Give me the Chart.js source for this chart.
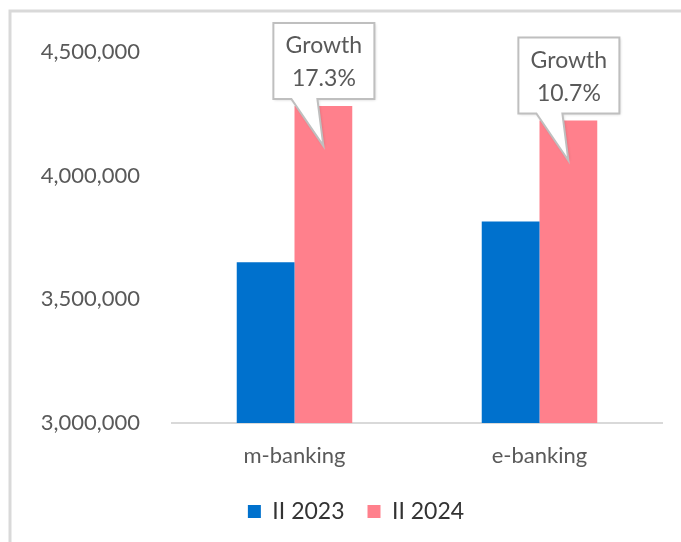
<!DOCTYPE html>
<html>
<head>
<meta charset="utf-8">
<script src="https://cdn.jsdelivr.net/npm/chart.js@4.4.1/dist/chart.umd.min.js"></script>
<style>
  html, body { margin: 0; padding: 0; background: #ffffff; }
  #wrap { position: relative; width: 681px; height: 542px; }
</style>
</head>
<body>
<div id="wrap"><canvas id="chart" width="681" height="542"></canvas></div>
<script>
// Channel categories and half-year user counts
const categories = ['m-banking', 'e-banking'];
const seriesNames = ['II 2023', 'II 2024'];
const users2023 = [3650000, 3815000];
const users2024 = [4282000, 4223000];
const yTicks = [3000000, 3500000, 4000000, 4500000];

const BLUE = '#0071CD';
const PINK = '#FF808C';
const TEXT = '#595959';
const FONT = 'Lato, "Open Sans", sans-serif';

// Year-on-year growth, shown in the callouts above the II 2024 bars
const growthLabels = users2024.map((v, i) => ((v / users2023[i] - 1) * 100).toFixed(1) + '%');

// Light frame around the chart panel
const framePlugin = {
  id: 'frame',
  beforeDraw(chart) {
    const ctx = chart.ctx;
    ctx.save();
    ctx.fillStyle = '#ffffff';
    ctx.fillRect(0, 0, chart.width, chart.height);
    ctx.strokeStyle = '#d9d9d9';
    ctx.lineWidth = 3;
    ctx.beginPath();
    ctx.moveTo(10, chart.height);
    ctx.lineTo(10, 11);
    ctx.lineTo(chart.width, 11);
    ctx.stroke();
    ctx.restore();
  }
};

// Centre the legend under the panel rather than the whole canvas
const legendShiftPlugin = {
  id: 'legendShift',
  afterLayout(chart) {
    if (chart.legend) {
      chart.legend.left += 50;
    }
  }
};

// Speech-bubble callouts pointing into the II 2024 bars
const calloutPlugin = {
  id: 'callouts',
  afterDatasetsDraw(chart) {
    const ctx = chart.ctx;
    const meta = chart.getDatasetMeta(1);
    meta.data.forEach((bar, i) => {
      const cx = bar.x + 0.5;
      const w = 101, h = 76;
      const bottom = bar.y - 7;
      const top = bottom - h;
      const left = cx - w / 2, right = cx + w / 2;
      const tipX = bar.x, tipY = bar.y + 40;
      const baseL = bar.x - 32, baseR = bar.x - 6;

      ctx.save();
      ctx.beginPath();
      ctx.moveTo(left, top);
      ctx.lineTo(right, top);
      ctx.lineTo(right, bottom);
      ctx.lineTo(baseR, bottom);
      ctx.lineTo(tipX, tipY);
      ctx.lineTo(baseL, bottom);
      ctx.lineTo(left, bottom);
      ctx.closePath();
      ctx.shadowColor = 'rgba(0,0,0,0.18)';
      ctx.shadowBlur = 3;
      ctx.shadowOffsetX = 1;
      ctx.shadowOffsetY = 1;
      ctx.fillStyle = '#ffffff';
      ctx.fill();
      ctx.shadowColor = 'transparent';
      ctx.strokeStyle = '#bfbfbf';
      ctx.lineWidth = 2;
      ctx.lineJoin = 'miter';
      ctx.stroke();

      ctx.fillStyle = TEXT;
      ctx.font = '23px ' + FONT;
      ctx.textAlign = 'center';
      ctx.textBaseline = 'middle';
      ctx.fillText('Growth', cx, top + 23);
      ctx.fillText(growthLabels[i], cx, top + 56);
      ctx.restore();
    });
  }
};

new Chart(document.getElementById('chart'), {
  type: 'bar',
  data: {
    labels: categories,
    datasets: [
      { label: seriesNames[0], data: users2023, backgroundColor: BLUE, borderWidth: 0 },
      { label: seriesNames[1], data: users2024, backgroundColor: PINK, borderWidth: 0 }
    ]
  },
  options: {
    responsive: false,
    animation: false,
    devicePixelRatio: 1,
    layout: { padding: { top: 52, right: 19, left: 0, bottom: 9 } },
    datasets: {
      bar: { categoryPercentage: 0.4715, barPercentage: 1 }
    },
    scales: {
      x: {
        grid: { display: false, drawTicks: false },
        border: { display: true, color: '#d9d9d9', width: 2 },
        ticks: { color: TEXT, font: { family: FONT, size: 22 }, padding: 20 },
        afterFit(scale) { scale.height = 54; }
      },
      y: {
        min: 3000000,
        max: 4500000,
        afterBuildTicks(scale) { scale.ticks = yTicks.map(v => ({ value: v })); },
        grid: { display: false, drawTicks: false },
        border: { display: false },
        ticks: {
          color: TEXT,
          font: { family: FONT, size: 22 },
          padding: 32,
          callback: v => Number(v).toLocaleString('en-US')
        },
        afterFit(scale) { scale.width = 172; }
      }
    },
    plugins: {
      legend: {
        position: 'bottom',
        labels: {
          boxWidth: 13,
          boxHeight: 13,
          padding: 23,
          color: '#333333',
          font: { family: FONT, size: 23 }
        }
      },
      tooltip: { enabled: false },
      title: { display: false }
    }
  },
  plugins: [framePlugin, legendShiftPlugin, calloutPlugin]
});
</script>
</body>
</html>
